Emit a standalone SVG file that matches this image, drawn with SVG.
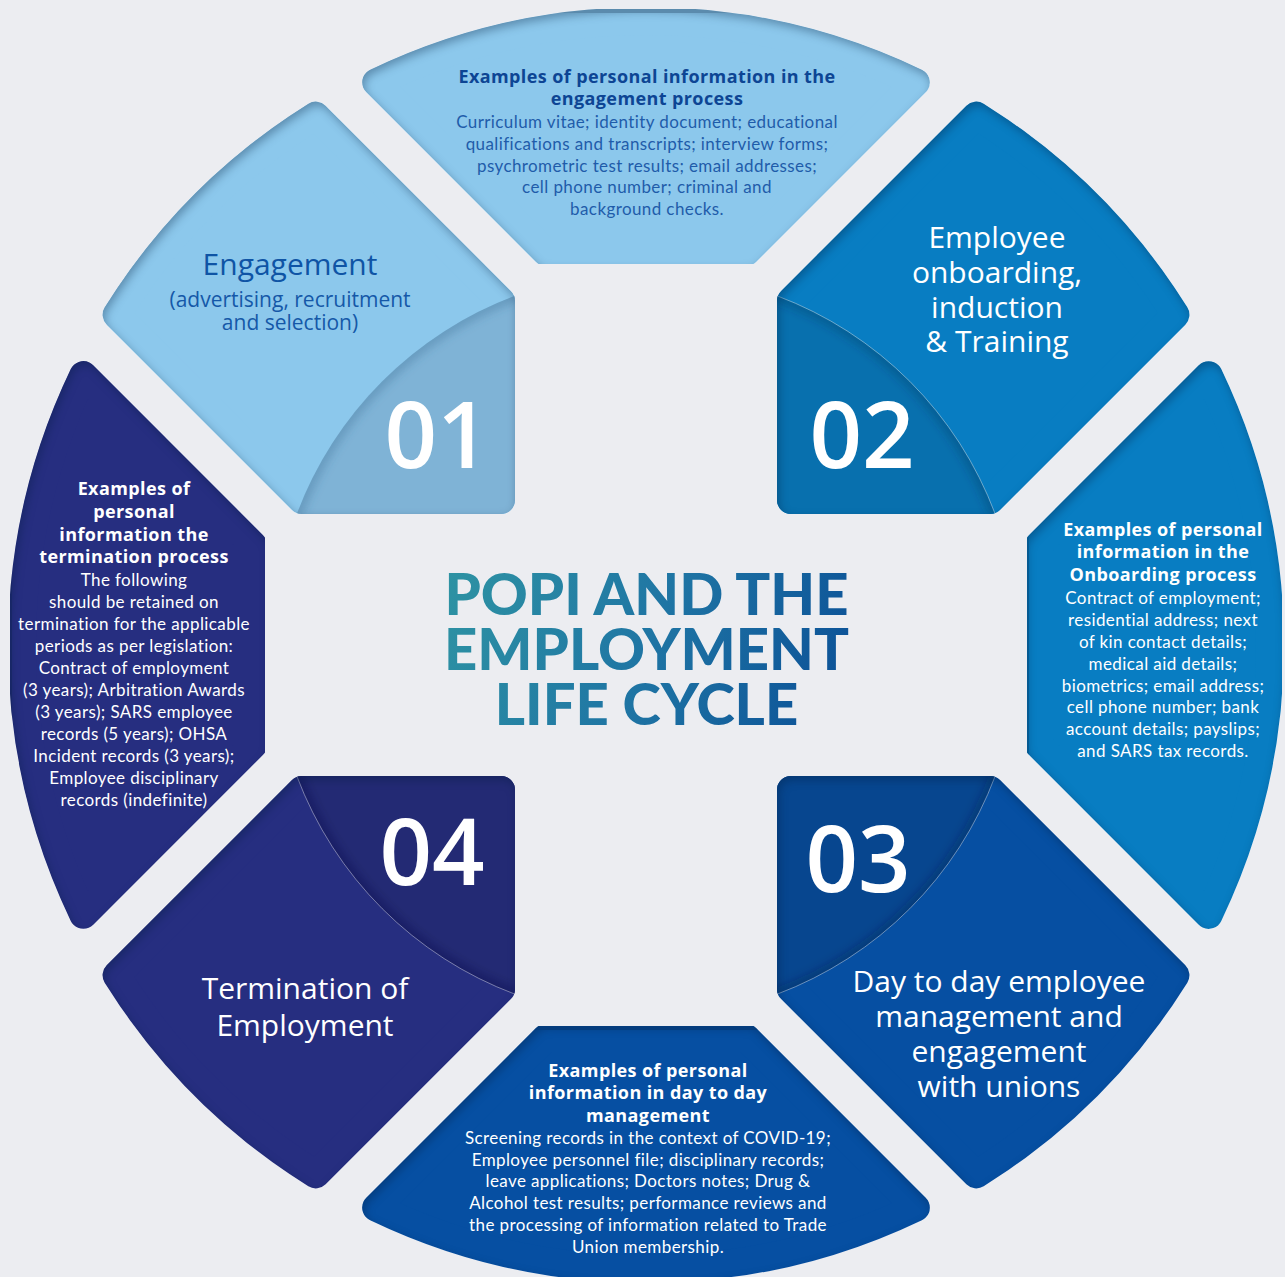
<svg xmlns="http://www.w3.org/2000/svg" xmlns:xlink="http://www.w3.org/1999/xlink" width="1285" height="1277" viewBox="0 0 1285 1277">
  <style>
    .seg { stroke-width: 28; stroke-linejoin: round; }
    .head { font-family: "Open Sans", "Noto Sans", sans-serif; font-weight: 700; font-size: 18px; letter-spacing: 0.4px; text-anchor: middle; }
    .body { font-family: Lato, "Noto Sans", sans-serif; font-weight: 400; font-size: 17px; letter-spacing: 0.4px; text-anchor: middle; }
    .label { font-family: "Open Sans", "Liberation Sans", sans-serif; font-size: 30px; text-anchor: middle; }
    .sub { font-family: "Open Sans", "Liberation Sans", sans-serif; font-size: 21px; text-anchor: middle; }
    .num { font-family: "Open Sans", "Liberation Sans", sans-serif; font-weight: 600; font-size: 92px; fill: #ffffff; text-anchor: middle; }
    .white { fill: #ffffff; }
    .navy-h { fill: #0d4594; }
    .navy-b { fill: #1f5caa; }
    .title { font-family: Lato, "Noto Sans", sans-serif; font-weight: 900; font-size: 58px; text-anchor: middle; fill: url(#titleGrad); }
  </style>
  <defs>
    <!-- corner segment (upper-left orientation), inset by the corner radius; stroke restores the size -->
    <path id="cornerShape" d="M-145,-344.2 L-330.25,-529.45 A624,624 0 0 0 -529.45,-330.25 L-344.2,-145 L-145,-145 Z"/>
    <!-- side segment (top orientation) -->
    <path id="sideShape" d="M-100.2,-393 L-269.84,-562.64 A624,624 0 0 1 269.84,-562.64 L100.2,-393 Z"/>
    <!-- darker inner quadrant of a corner segment -->
    <path id="quad" d="M-131,-131 L-131,-349.2 A373,373 0 0 0 -349.2,-131 Z"/>
    <path id="quadArc" d="M-131,-349.2 A373,373 0 0 0 -349.2,-131" fill="none"/>

    <mask id="cornerMask" maskUnits="userSpaceOnUse" x="-700" y="-700" width="1400" height="1400">
      <use xlink:href="#cornerShape" fill="#fff" stroke="#fff" stroke-width="28" stroke-linejoin="round"/>
    </mask>
    <clipPath id="quadClip">
      <use xlink:href="#quad"/>
    </clipPath>

    <filter id="inset" x="-5%" y="-5%" width="110%" height="110%" color-interpolation-filters="sRGB">
      <feGaussianBlur in="SourceAlpha" stdDeviation="5" result="b"/>
      <feOffset in="b" dx="2" dy="4" result="o"/>
      <feComposite in="SourceAlpha" in2="o" operator="arithmetic" k2="1" k3="-1" result="edge"/>
      <feFlood flood-color="#001a3a" flood-opacity="0.35"/>
      <feComposite in2="edge" operator="in" result="sh"/>
      <feMerge><feMergeNode in="SourceGraphic"/><feMergeNode in="sh"/></feMerge>
    </filter>
    <filter id="soft" x="-20%" y="-20%" width="140%" height="140%">
      <feGaussianBlur stdDeviation="4"/>
    </filter>

    <linearGradient id="titleGrad" gradientUnits="userSpaceOnUse" x1="445" y1="570" x2="850" y2="730">
      <stop offset="0" stop-color="#2e93a3"/>
      <stop offset="0.5" stop-color="#1f75a4"/>
      <stop offset="1" stop-color="#0a4e96"/>
    </linearGradient>
  </defs>

  <rect width="1285" height="1277" fill="#ecedf1"/>

  <!-- 01 Engagement -->
  <g id="node-01">
    <g filter="url(#inset)">
      <g transform="translate(646 645)">
        <use xlink:href="#cornerShape" class="seg" fill="#8cc8ec" stroke="#8cc8ec"/>
        <g mask="url(#cornerMask)">
          <use xlink:href="#quad" fill="#7fb3d6"/>
          <g clip-path="url(#quadClip)">
            <use xlink:href="#quadArc" stroke="#3d6f96" stroke-width="12" stroke-opacity="0.35" filter="url(#soft)"/>
          </g>
        </g>
      </g>
    </g>
    <text class="label" x="290" y="275" fill="#0f54a5">Engagement</text>
    <text class="sub" x="290" y="306.5" fill="#1558a8">(advertising, recruitment</text>
    <text class="sub" x="290" y="330" fill="#1558a8">and selection)</text>
    <text class="num" x="437" y="468">01</text>
  </g>

  <!-- Engagement information -->
  <g id="info-engagement">
    <g filter="url(#inset)">
      <use xlink:href="#sideShape" transform="translate(646 645)" class="seg" fill="#8cc8ec" stroke="#8cc8ec"/>
    </g>
    <text class="head navy-h" x="647" y="83">Examples of personal information in the</text>
    <text class="head navy-h" x="647" y="105">engagement process</text>
    <text class="body navy-b" x="647" y="128">Curriculum vitae; identity document; educational</text>
    <text class="body navy-b" x="647" y="150">qualifications and transcripts; interview forms;</text>
    <text class="body navy-b" x="647" y="171.5">psychrometric test results; email addresses;</text>
    <text class="body navy-b" x="647" y="193">cell phone number; criminal and</text>
    <text class="body navy-b" x="647" y="214.5">background checks.</text>
  </g>

  <!-- 02 Onboarding -->
  <g id="node-02">
    <g filter="url(#inset)">
      <g transform="translate(646 645) rotate(90)">
        <use xlink:href="#cornerShape" class="seg" fill="#087dc2" stroke="#087dc2"/>
        <g mask="url(#cornerMask)">
          <use xlink:href="#quad" fill="#0870ae"/>
          <g clip-path="url(#quadClip)">
            <use xlink:href="#quadArc" stroke="#03365e" stroke-width="12" stroke-opacity="0.3" filter="url(#soft)"/>
          </g>
          <use xlink:href="#quadArc" stroke="#ffffff" stroke-opacity="0.5" stroke-width="0.8"/>
        </g>
      </g>
    </g>
    <text class="label white" x="997" y="248">Employee</text>
    <text class="label white" x="997" y="283">onboarding,</text>
    <text class="label white" x="997" y="318">induction</text>
    <text class="label white" x="997" y="352">&amp; Training</text>
    <text class="num" x="862" y="468">02</text>
  </g>

  <!-- Onboarding information -->
  <g id="info-onboarding">
    <g filter="url(#inset)">
      <use xlink:href="#sideShape" transform="translate(646 645) rotate(90)" class="seg" fill="#087dc2" stroke="#087dc2"/>
    </g>
    <text class="head white" x="1163" y="536">Examples of personal</text>
    <text class="head white" x="1163" y="558">information in the</text>
    <text class="head white" x="1163" y="581">Onboarding process</text>
    <text class="body white" x="1163" y="604">Contract of employment;</text>
    <text class="body white" x="1163" y="626">residential address; next</text>
    <text class="body white" x="1163" y="648">of kin contact details;</text>
    <text class="body white" x="1163" y="670">medical aid details;</text>
    <text class="body white" x="1163" y="692">biometrics; email address;</text>
    <text class="body white" x="1163" y="713">cell phone number; bank</text>
    <text class="body white" x="1163" y="735">account details; payslips;</text>
    <text class="body white" x="1163" y="757">and SARS tax records.</text>
  </g>

  <!-- 03 Day to day management -->
  <g id="node-03">
    <g filter="url(#inset)">
      <g transform="translate(646 645) rotate(180)">
        <use xlink:href="#cornerShape" class="seg" fill="#064fa2" stroke="#064fa2"/>
        <g mask="url(#cornerMask)">
          <use xlink:href="#quad" fill="#07468f"/>
          <g clip-path="url(#quadClip)">
            <use xlink:href="#quadArc" stroke="#021f4a" stroke-width="12" stroke-opacity="0.3" filter="url(#soft)"/>
          </g>
          <use xlink:href="#quadArc" stroke="#ffffff" stroke-opacity="0.5" stroke-width="0.8"/>
        </g>
      </g>
    </g>
    <text class="label white" x="999" y="992">Day to day employee</text>
    <text class="label white" x="999" y="1027">management and</text>
    <text class="label white" x="999" y="1062">engagement</text>
    <text class="label white" x="999" y="1097">with unions</text>
    <text class="num" x="858" y="892">03</text>
  </g>

  <!-- Day to day information -->
  <g id="info-daytoday">
    <g filter="url(#inset)">
      <use xlink:href="#sideShape" transform="translate(646 645) rotate(180)" class="seg" fill="#064fa2" stroke="#064fa2"/>
    </g>
    <text class="head white" x="648" y="1077">Examples of personal</text>
    <text class="head white" x="648" y="1099">information in day to day</text>
    <text class="head white" x="648" y="1122">management</text>
    <text class="body white" x="648" y="1144">Screening records in the context of COVID-19;</text>
    <text class="body white" x="648" y="1166">Employee personnel file; disciplinary records;</text>
    <text class="body white" x="648" y="1187">leave applications; Doctors notes; Drug &amp;</text>
    <text class="body white" x="648" y="1209">Alcohol test results; performance reviews and</text>
    <text class="body white" x="648" y="1231">the processing of information related to Trade</text>
    <text class="body white" x="648" y="1253">Union membership.</text>
  </g>

  <!-- 04 Termination -->
  <g id="node-04">
    <g filter="url(#inset)">
      <g transform="translate(646 645) rotate(270)">
        <use xlink:href="#cornerShape" class="seg" fill="#262e80" stroke="#262e80"/>
        <g mask="url(#cornerMask)">
          <use xlink:href="#quad" fill="#232a74"/>
          <g clip-path="url(#quadClip)">
            <use xlink:href="#quadArc" stroke="#0c1040" stroke-width="12" stroke-opacity="0.3" filter="url(#soft)"/>
          </g>
          <use xlink:href="#quadArc" stroke="#ffffff" stroke-opacity="0.5" stroke-width="0.8"/>
        </g>
      </g>
    </g>
    <text class="label white" x="305" y="999">Termination of</text>
    <text class="label white" x="305" y="1036">Employment</text>
    <text class="num" x="432" y="885">04</text>
  </g>

  <!-- Termination information -->
  <g id="info-termination">
    <g filter="url(#inset)">
      <use xlink:href="#sideShape" transform="translate(646 645) rotate(270)" class="seg" fill="#262e80" stroke="#262e80"/>
    </g>
    <text class="head white" x="134" y="495">Examples of</text>
    <text class="head white" x="134" y="518">personal</text>
    <text class="head white" x="134" y="541">information the</text>
    <text class="head white" x="134" y="563">termination process</text>
    <text class="body white" x="134" y="585.5">The following</text>
    <text class="body white" x="134" y="607.5">should be retained on</text>
    <text class="body white" x="134" y="629.5">termination for the applicable</text>
    <text class="body white" x="134" y="651.5">periods as per legislation:</text>
    <text class="body white" x="134" y="673.5">Contract of employment</text>
    <text class="body white" x="134" y="695.5">(3 years); Arbitration Awards</text>
    <text class="body white" x="134" y="717.5">(3 years); SARS employee</text>
    <text class="body white" x="134" y="739.5">records (5 years); OHSA</text>
    <text class="body white" x="134" y="761.5">Incident records (3 years);</text>
    <text class="body white" x="134" y="783.5">Employee disciplinary</text>
    <text class="body white" x="134" y="805.5">records (indefinite)</text>
  </g>

  <!-- central title -->
  <g id="title">
    <text class="title" x="646.5" y="615">POPI AND THE</text>
    <text class="title" x="646.5" y="670">EMPLOYMENT</text>
    <text class="title" x="646.5" y="725">LIFE CYCLE</text>
  </g>
</svg>
